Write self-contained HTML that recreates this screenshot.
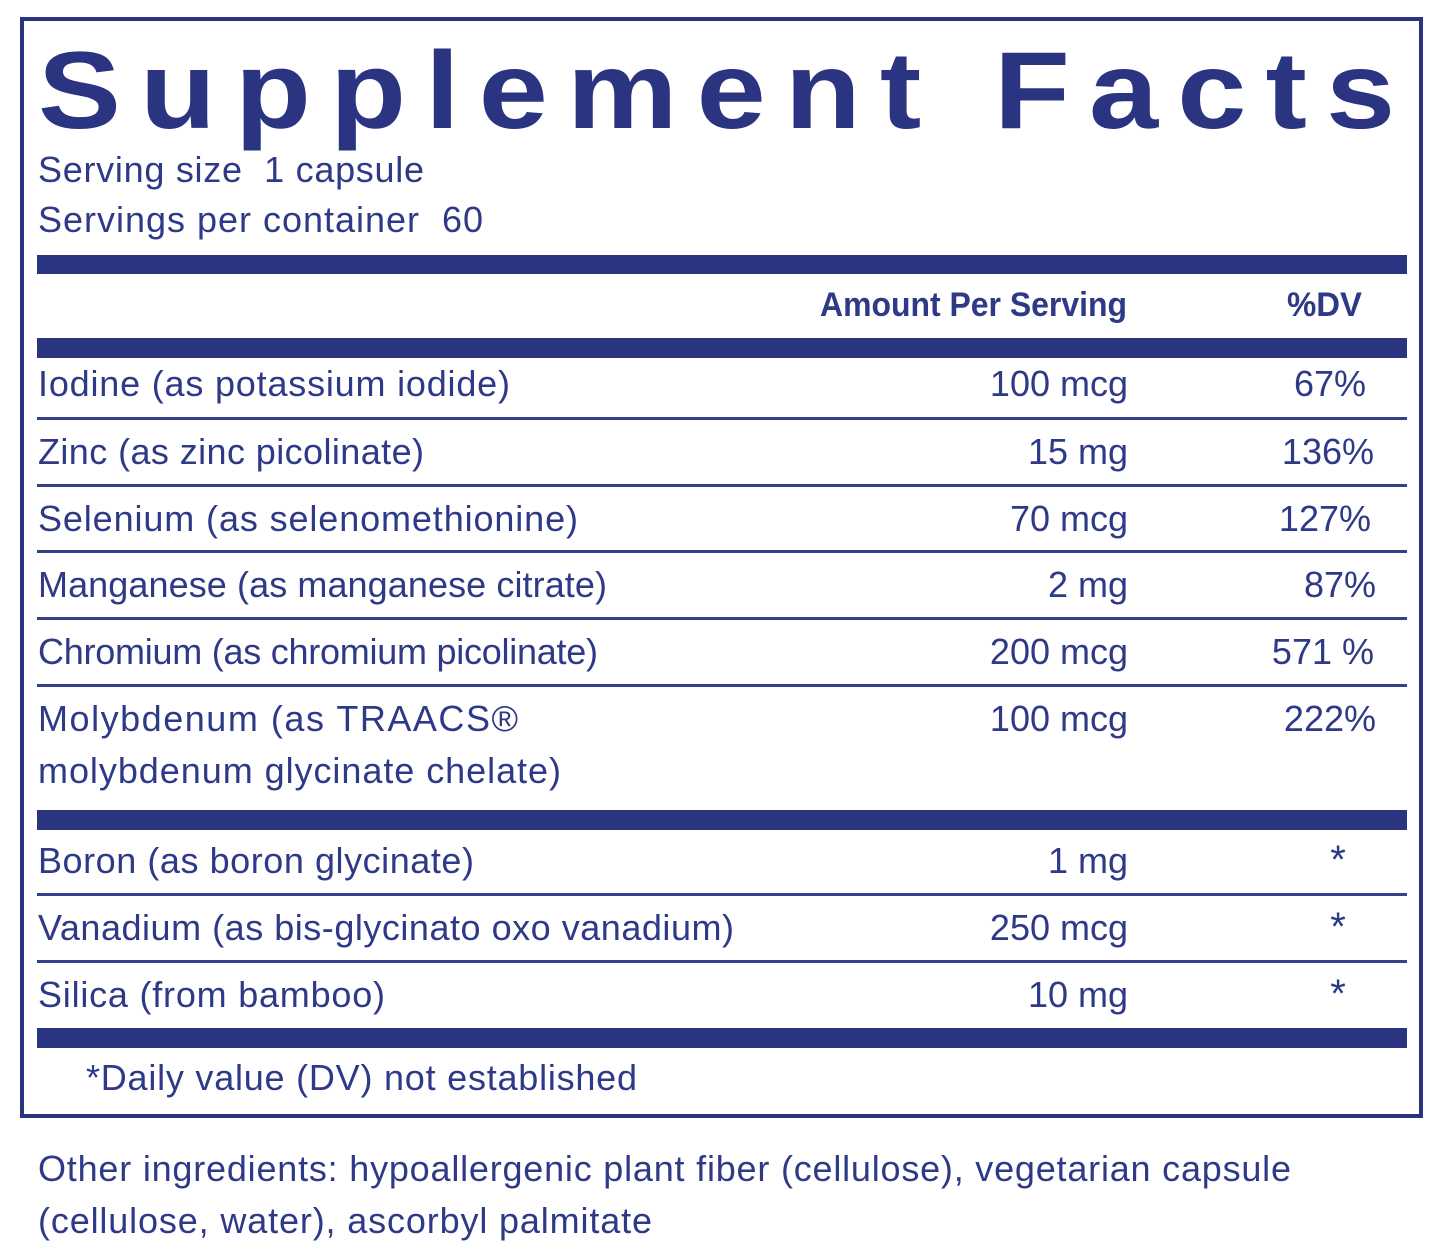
<!DOCTYPE html>
<html><head><meta charset="utf-8"><style>
html,body{margin:0;padding:0;background:#fff;}
svg{display:block}
text{font-family:"Liberation Sans",Arial,sans-serif;fill:#2e3987;white-space:pre;}
.t{font-size:36px;}
.b{font-weight:bold;}
</style></head><body>
<svg width="1445" height="1251" viewBox="0 0 1445 1251" xmlns="http://www.w3.org/2000/svg">
<rect x="0" y="0" width="1445" height="1251" fill="#fff"/>
<rect x="22" y="19" width="1399" height="1097" fill="none" stroke="#2a3481" stroke-width="4"/>
<g fill="#2a3481">
<rect x="37" y="255" width="1370" height="19"/>
<rect x="37" y="338" width="1370" height="20"/>
<rect x="37" y="810" width="1370" height="20"/>
<rect x="37" y="1028" width="1370" height="20"/>
</g>
<g fill="#34408c">
<rect x="37" y="417" width="1370" height="3"/>
<rect x="37" y="484" width="1370" height="3"/>
<rect x="37" y="550" width="1370" height="3"/>
<rect x="37" y="617" width="1370" height="3"/>
<rect x="37" y="684" width="1370" height="3"/>
<rect x="37" y="893" width="1370" height="3"/>
<rect x="37" y="960" width="1370" height="3"/>
</g>

<g transform="translate(38,128) scale(1.13,1)">
<text x="0" y="0" font-size="110" class="b" textLength="1201" lengthAdjust="spacing" style="fill:#2a3481">Supplement Facts</text>
</g>

<text class="t" x="38" y="182" textLength="386" lengthAdjust="spacing">Serving size  1 capsule</text>
<text class="t" x="38" y="232" textLength="445" lengthAdjust="spacing">Servings per container  60</text>

<text class="b" x="820" y="316" font-size="34" textLength="307" lengthAdjust="spacingAndGlyphs">Amount Per Serving</text>
<text class="b" x="1287" y="316" font-size="34" textLength="75" lengthAdjust="spacingAndGlyphs">%DV</text>

<text class="t" x="38" y="396" textLength="472" lengthAdjust="spacing">Iodine (as potassium iodide)</text>
<text class="t" x="1128" y="396" text-anchor="end">100 mcg</text>
<text class="t" x="1366" y="396" text-anchor="end">67%</text>

<text class="t" x="38" y="464" textLength="386" lengthAdjust="spacing">Zinc (as zinc picolinate)</text>
<text class="t" x="1128" y="464" text-anchor="end">15 mg</text>
<text class="t" x="1374" y="464" text-anchor="end">136%</text>

<text class="t" x="38" y="531" textLength="540" lengthAdjust="spacing">Selenium (as selenomethionine)</text>
<text class="t" x="1128" y="531" text-anchor="end">70 mcg</text>
<text class="t" x="1371" y="531" text-anchor="end">127%</text>

<text class="t" x="38" y="597" textLength="569" lengthAdjust="spacing">Manganese (as manganese citrate)</text>
<text class="t" x="1128" y="597" text-anchor="end">2 mg</text>
<text class="t" x="1376" y="597" text-anchor="end">87%</text>

<text class="t" x="38" y="664" textLength="560" lengthAdjust="spacing">Chromium (as chromium picolinate)</text>
<text class="t" x="1128" y="664" text-anchor="end">200 mcg</text>
<text class="t" x="1374" y="664" text-anchor="end">571 %</text>

<text class="t" x="38" y="731" textLength="480" lengthAdjust="spacing">Molybdenum (as TRAACS®</text>
<text class="t" x="38" y="783" textLength="523" lengthAdjust="spacing">molybdenum glycinate chelate)</text>
<text class="t" x="1128" y="731" text-anchor="end">100 mcg</text>
<text class="t" x="1376" y="731" text-anchor="end">222%</text>

<text class="t" x="38" y="873" textLength="436" lengthAdjust="spacing">Boron (as boron glycinate)</text>
<text class="t" x="1128" y="873" text-anchor="end">1 mg</text>
<text x="1338" y="873" font-size="40" text-anchor="middle">*</text>

<text class="t" x="38" y="940" textLength="696" lengthAdjust="spacing">Vanadium (as bis-glycinato oxo vanadium)</text>
<text class="t" x="1128" y="940" text-anchor="end">250 mcg</text>
<text x="1338" y="940" font-size="40" text-anchor="middle">*</text>

<text class="t" x="38" y="1007" textLength="347" lengthAdjust="spacing">Silica (from bamboo)</text>
<text class="t" x="1128" y="1007" text-anchor="end">10 mg</text>
<text x="1338" y="1007" font-size="40" text-anchor="middle">*</text>

<text class="t" x="86" y="1090" textLength="551" lengthAdjust="spacing">*Daily value (DV) not established</text>

<text class="t" x="38" y="1181" textLength="1253" lengthAdjust="spacing">Other ingredients: hypoallergenic plant fiber (cellulose), vegetarian capsule</text>
<text class="t" x="38" y="1233" textLength="614" lengthAdjust="spacing">(cellulose, water), ascorbyl palmitate</text>
</svg>
</body></html>
